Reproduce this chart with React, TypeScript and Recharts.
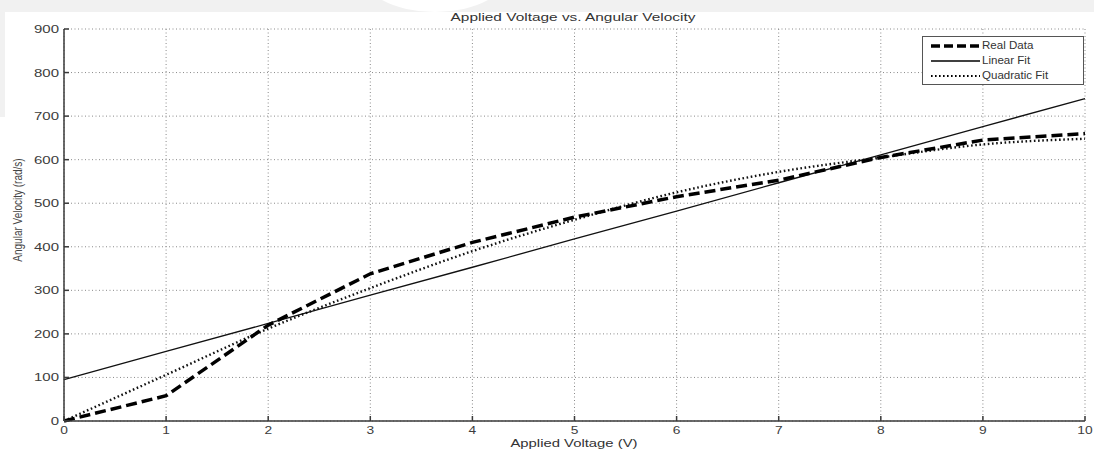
import React from 'react';
import {
  LineChart,
  Line,
  XAxis,
  YAxis,
  CartesianGrid,
} from 'recharts';

const voltage = [0, 1, 2, 3, 4, 5, 6, 7, 8, 9, 10];
const realData = [0, 58, 220, 338, 410, 468, 515, 553, 605, 645, 660];
const linearFit = [95, 160, 224, 289, 353, 418, 482, 547, 611, 676, 740];
const quadraticFit = [0, 106, 212, 305, 390, 462, 525, 572, 605, 635, 648];

const xTicks = [0, 1, 2, 3, 4, 5, 6, 7, 8, 9, 10];
const yTicks = [0, 100, 200, 300, 400, 500, 600, 700, 800, 900];

const data = voltage.map((v, i) => ({
  v,
  real: realData[i],
  linear: linearFit[i],
  quad: quadraticFit[i],
}));

const FONT = 'Arial, "Liberation Sans", sans-serif';
const AXIS = '#3a3a3a';
const TEXT = '#3c3c3c';

// the source image is stretched sideways, so text gets a horizontal scale
const BottomTick = (props: any) => {
  const { x, y, payload } = props;
  return (
    <g>
      <line x1={x} y1={y} x2={x} y2={y - 5} stroke={AXIS} strokeWidth={1.5} />
      <text
        transform={`translate(${x},${y + 13}) scale(1.25,1)`}
        textAnchor="middle"
        fontSize={11}
        fill={TEXT}
        fontFamily={FONT}
      >
        {payload.value}
      </text>
    </g>
  );
};

const TopTick = (props: any) => {
  const { x, y } = props;
  return <line x1={x} y1={y} x2={x} y2={y + 5} stroke={AXIS} strokeWidth={1.5} />;
};

const LeftTick = (props: any) => {
  const { x, y, payload } = props;
  return (
    <g>
      <line x1={x} y1={y} x2={x + 5} y2={y} stroke={AXIS} strokeWidth={1.5} />
      <text
        transform={`translate(${x - 5},${y + 4}) scale(1.5,1)`}
        textAnchor="end"
        fontSize={10}
        fill={TEXT}
        fontFamily={FONT}
      >
        {payload.value}
      </text>
    </g>
  );
};

const RightTick = (props: any) => {
  const { x, y } = props;
  return <line x1={x} y1={y} x2={x - 5} y2={y} stroke={AXIS} strokeWidth={1.5} />;
};

const legendItems = [
  { name: 'Real Data', width: 3.5, dash: '9 4' },
  { name: 'Linear Fit', width: 1.3, dash: undefined },
  { name: 'Quadratic Fit', width: 2.2, dash: '1.6 2.4' },
];

const LegendBox = () => (
  <div
    style={{
      position: 'absolute',
      left: 922,
      top: 36,
      width: 153,
      height: 46,
      border: '1.5px solid #555',
      background: '#fff',
      padding: '1px 0 0 7px',
      fontFamily: FONT,
      fontSize: 10.5,
      color: '#333',
      lineHeight: '15px',
    }}
  >
    {legendItems.map((it) => (
      <div key={it.name} style={{ display: 'flex', alignItems: 'center', height: 15 }}>
        <svg width={52} height={10}>
          <line x1={1} y1={5} x2={50} y2={5} stroke="#000" strokeWidth={it.width} strokeDasharray={it.dash} />
        </svg>
        <span style={{ display: 'inline-block', transform: 'scaleX(1.1)', transformOrigin: 'left center', whiteSpace: 'nowrap' }}>
          {it.name}
        </span>
      </div>
    ))}
  </div>
);

export default function App() {
  return (
    <div style={{ position: 'absolute', left: 0, top: 0, width: 1094, height: 453, background: '#fff', overflow: 'hidden' }}>
      <div style={{ position: 'absolute', left: 0, top: 0, width: 1094, height: 12, background: '#f1f1f1' }} />
      <div style={{ position: 'absolute', left: 0, top: 12, width: 5, height: 105, background: '#f1f1f1' }} />
      <div style={{ position: 'absolute', left: 360, top: -70, width: 150, height: 82, borderRadius: '50%', background: '#fff' }} />
      <div
        style={{
          position: 'absolute',
          left: 0,
          top: 11,
          width: 1146,
          textAlign: 'center',
          fontFamily: FONT,
          fontSize: 11,
          color: '#333',
          transform: 'scaleX(1.4)',
          transformOrigin: '573px 0',
        }}
      >
        Applied Voltage vs. Angular Velocity
      </div>
      <div
        style={{
          position: 'absolute',
          left: 0,
          top: 438,
          width: 1148,
          textAlign: 'center',
          fontFamily: FONT,
          fontSize: 11,
          lineHeight: '11px',
          color: '#333',
          transform: 'scaleX(1.35)',
          transformOrigin: '574px 0',
        }}
      >
        Applied Voltage (V)
      </div>
      <div
        style={{
          position: 'absolute',
          left: 17,
          top: 210,
          transform: 'translate(-50%, -50%) rotate(-90deg) scaleY(1.3)',
          whiteSpace: 'nowrap',
          fontFamily: FONT,
          fontSize: 10,
          color: '#444',
        }}
      >
        Angular Velocity (rad/s)
      </div>
      <LineChart
        width={1094}
        height={453}
        data={data}
        margin={{ top: 29, right: 9, bottom: 0, left: 0 }}
        style={{ position: 'absolute', left: 0, top: 0 }}
      >
        <CartesianGrid stroke="#8a8a8a" strokeDasharray="1 2.5" />
        <XAxis
          dataKey="v"
          type="number"
          domain={[0, 10]}
          ticks={xTicks}
          height={32}
          tickSize={0}
          tickMargin={0}
          tick={<BottomTick />}
          tickLine={false}
          stroke={AXIS}
          strokeWidth={1.5}
          interval={0}
        />
        <XAxis
          xAxisId="top"
          orientation="top"
          dataKey="v"
          type="number"
          domain={[0, 10]}
          ticks={xTicks}
          height={0}
          tickSize={0}
          tickMargin={0}
          tick={<TopTick />}
          tickLine={false}
          stroke={AXIS}
          strokeWidth={1.5}
          interval={0}
        />
        <YAxis
          type="number"
          domain={[0, 900]}
          ticks={yTicks}
          width={64}
          tickSize={0}
          tickMargin={0}
          tick={<LeftTick />}
          tickLine={false}
          stroke={AXIS}
          strokeWidth={1.5}
          interval={0}
        />
        <YAxis
          yAxisId="right"
          orientation="right"
          type="number"
          domain={[0, 900]}
          ticks={yTicks}
          width={0}
          tickSize={0}
          tickMargin={0}
          tick={<RightTick />}
          tickLine={false}
          stroke={AXIS}
          strokeWidth={1.5}
          interval={0}
        />
        <Line
          dataKey="linear"
          name="Linear Fit"
          type="linear"
          xAxisId="top"
          yAxisId="right"
          stroke="#111"
          strokeWidth={1.3}
          dot={false}
          isAnimationActive={false}
        />
        <Line
          dataKey="quad"
          name="Quadratic Fit"
          type="monotone"
          stroke="#111"
          strokeWidth={2.4}
          strokeDasharray="1.6 2.6"
          dot={false}
          isAnimationActive={false}
        />
        <Line
          dataKey="real"
          name="Real Data"
          type="linear"
          stroke="#000"
          strokeWidth={3.5}
          strokeDasharray="11 5"
          dot={false}
          isAnimationActive={false}
        />
      </LineChart>
      <LegendBox />
    </div>
  );
}
